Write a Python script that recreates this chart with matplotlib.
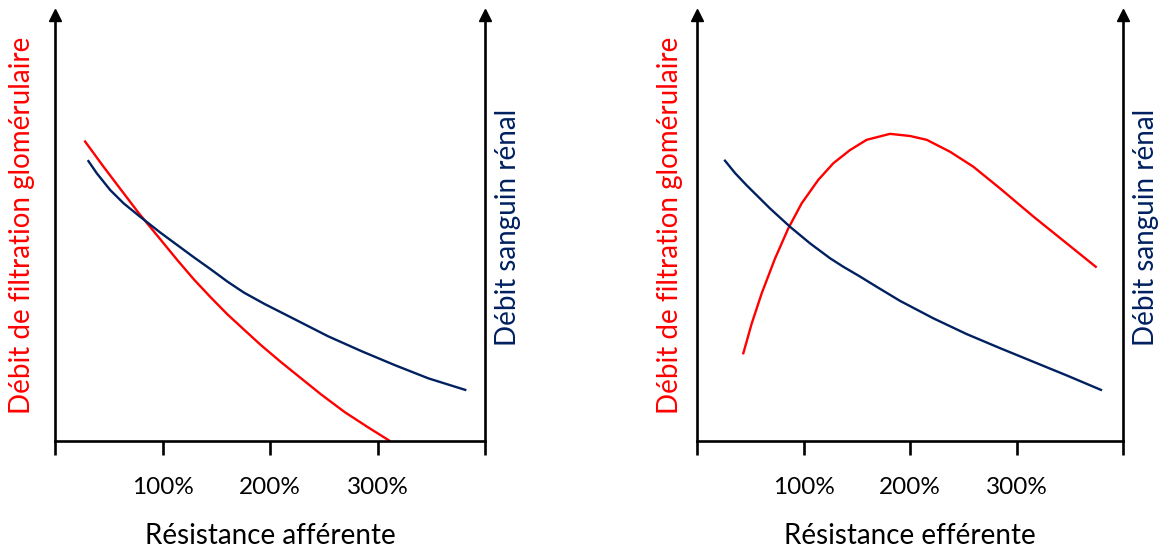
import matplotlib

matplotlib.use("Agg")
import matplotlib.pyplot as plt

RED = "#ff0000"
NAVY = "#002060"
FONT = "Lato"

# resistance in % (x) and relative flow (y, 0..100 of the axis height)
aff_dfg_x = [28.0, 45.1, 60.7, 77.9, 98.1, 113.7, 129.3, 144.9, 160.5, 176.0, 191.6,
             210.3, 229.0, 247.7, 269.4, 291.3, 310.9]
aff_dfg_y = [70.3, 64.4, 59.2, 53.5, 47.3, 42.5, 37.9, 33.7, 29.7, 26.1, 22.5,
             18.5, 14.7, 10.9, 6.8, 3.2, 0.1]
aff_dsr_x = [31.1, 39.0, 51.4, 63.8, 77.9, 98.1, 113.7, 129.3, 144.9, 160.5, 176.0,
             194.7, 225.9, 253.9, 285.0, 316.2, 347.4, 381.6]
aff_dsr_y = [65.7, 62.8, 58.9, 55.8, 52.9, 48.9, 46.0, 43.1, 40.3, 37.4, 34.8,
             32.2, 28.2, 24.6, 21.1, 17.8, 14.7, 12.0]

eff_dfg_x = [43.5, 51.4, 60.8, 73.2, 85.7, 98.3, 113.9, 128.0, 143.7, 159.3, 181.2,
             200.0, 215.7, 237.6, 259.4, 284.5, 315.8, 347.1, 374.4]
eff_dfg_y = [20.6, 27.6, 34.7, 42.8, 49.9, 55.8, 61.3, 65.2, 68.3, 70.7, 72.1,
             71.6, 70.7, 67.9, 64.4, 59.3, 52.7, 46.4, 40.9]
eff_dsr_x = [26.3, 35.7, 46.7, 68.5, 87.3, 106.1, 124.9, 137.4, 153.1, 168.7, 190.6,
             221.9, 253.2, 284.5, 315.8, 347.1, 379.3]
eff_dsr_y = [65.8, 62.9, 60.0, 54.6, 50.3, 46.4, 42.9, 40.9, 38.6, 36.2, 32.9,
             28.8, 25.1, 21.8, 18.6, 15.4, 12.0]

x_ticks = [0, 100, 200, 300, 400]
x_tick_labels = ["", "100%", "200%", "300%", ""]


def panel(rect, dfg, dsr, xlabel, left_off, right_off):
    ax = fig.add_axes(rect)
    ax.set_xlim(0, 400)
    ax.set_ylim(0, 100)
    ax.plot(*dfg, color=RED, lw=1.7, solid_joinstyle="round")
    ax.plot(*dsr, color=NAVY, lw=1.7, solid_joinstyle="round")

    ax.spines["top"].set_visible(False)
    for s in ("left", "right", "bottom"):
        ax.spines[s].set_linewidth(1.9)
        ax.spines[s].set_color("black")
    ax.set_yticks([])
    ax.set_xticks(x_ticks)
    ax.set_xticklabels(x_tick_labels, fontsize=17.5, family=FONT)
    ax.tick_params(axis="x", direction="out", length=10, width=1.9, pad=16)
    # arrow heads on both vertical axes
    ax.plot([0, 1], [1.0, 1.0], marker="^", ms=9, color="black", lw=0,
            transform=ax.transAxes, clip_on=False)

    ax.text(0.5, -0.222, xlabel, transform=ax.transAxes, ha="center", va="center",
            fontsize=20, family=FONT)
    ax.text(left_off, 0.506, "Débit de filtration glomérulaire", transform=ax.transAxes,
            rotation=90, ha="center", va="center", fontsize=20, family=FONT, color=RED)
    ax.text(right_off, 0.502, "Débit sanguin rénal", transform=ax.transAxes,
            rotation=90, ha="center", va="center", fontsize=20, family=FONT, color=NAVY)
    return ax


fig = plt.figure(figsize=(11.65, 5.47), dpi=100)
panel([55 / 1165, 106 / 547, 430 / 1165, 426 / 547], (aff_dfg_x, aff_dfg_y),
      (aff_dsr_x, aff_dsr_y), "Résistance afférente", -0.077, 1.053)
panel([697 / 1165, 106 / 547, 426 / 1165, 426 / 547], (eff_dfg_x, eff_dfg_y),
      (eff_dsr_x, eff_dsr_y), "Résistance efférente", -0.063, 1.054)

fig.savefig("out.png", dpi=100)
